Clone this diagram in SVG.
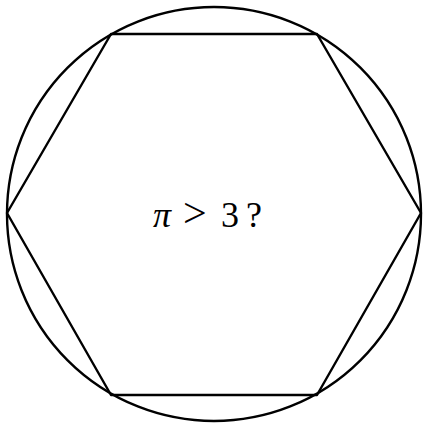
<svg xmlns="http://www.w3.org/2000/svg" width="423" height="425" viewBox="0 0 423 425">
<style>
.ln{fill:none;stroke:#000;stroke-width:2.4;stroke-linejoin:round}
.t{font-family:"Liberation Serif","DejaVu Serif",serif;font-size:36px;fill:#000}
</style>
<rect width="423" height="425" fill="#fff"/>
<g id="circle"><ellipse class="ln" cx="214" cy="214" rx="207" ry="207"/></g>
<g id="hexagon"><polygon class="ln" points="7,213 111,34 317,34 421,213 317,395 111,395"/></g>
<g id="label"><text class="t" y="227"><tspan x="153" font-style="italic">π</tspan><tspan x="183" font-size="42">&gt;</tspan><tspan x="221">3</tspan><tspan x="246">?</tspan></text></g>
</svg>
